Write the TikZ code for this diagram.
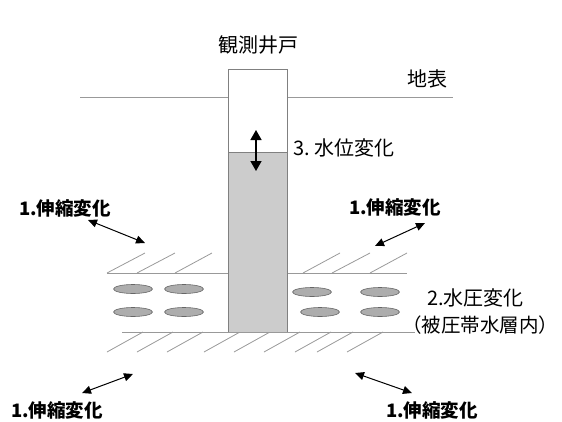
\documentclass[tikz,border=0pt]{standalone}
\usepackage{fontspec}
\usepackage{xcolor}
\usepackage{tikz}
\usetikzlibrary{arrows.meta}

\newfontfamily\jp{Noto Sans CJK JP}
\definecolor{linegray}{gray}{0.6}
\definecolor{wellgray}{gray}{0.8}
\definecolor{graingray}{gray}{0.68}

\begin{document}
\begin{tikzpicture}[x=1pt,y=-1pt,
    label/.style={font=\jp\fontsize{20}{22}\selectfont,inner sep=0pt},
    boldlabel/.style={font=\jp\bfseries\fontsize{18.5}{20}\selectfont,inner sep=0pt},
    strain/.style={{Triangle[length=9pt,width=8pt]}-{Triangle[length=9pt,width=8pt]},line width=1pt},
    hatch/.style={linegray,line width=0.8pt},
    grain/.style={fill=graingray,draw=gray!80!black,line width=0.6pt}]
    \useasboundingbox (0,0) rectangle (562,421);

    % Ground surface
    \draw[linegray,line width=1pt] (80,97) -- (453,97);
    \node[label,anchor=west] (surface) at (407,79) {地表};

    % Confined aquifer boundaries
    \draw[linegray,line width=1pt] (107,273) -- (407,273);
    \draw[linegray,line width=1pt] (122,332) -- (415,332);

    % Hatching above and below the aquifer
    \foreach \x/\dx in {107/38,137/38,175/37,303/37,332/38,370/37}
        \draw[hatch] (\x,273) -- ++(\dx,-20);
    \foreach \x in {107,137,167,204,234,264,295,317,347}
        \draw[hatch] (\x,352) -- ++(36,-20);

    % Grains in the aquifer
    \foreach \x/\y in {133/289,184/289,133/312,184/312,312/292,380/292,320/312,380/312}
        \draw[grain] (\x,\y) ellipse (19.5 and 4.5);

    % Observation well
    \fill[white] (228,69) rectangle (287,152);
    \fill[wellgray] (228,152) rectangle (287,332);
    \draw[gray,line width=0.8pt] (228,332) -- (228,69) -- (287,69) -- (287,332);
    \draw[gray,line width=0.8pt] (228,152) -- (287,152);
    \node[label] (well) at (258,45) {観測井戸};

    % Water level change
    \coordinate (levelTop) at (256,130);
    \coordinate (levelBot) at (256,171);
    \draw[{Triangle[length=10pt,width=11pt]}-{Triangle[length=10pt,width=11pt]},line width=1.4pt] (levelTop) -- (levelBot);
    \node[label,anchor=west] (level) at (293,148) {3.\ 水位変化};

    % Pressure change
    \node[label,anchor=west] (press) at (427,298) {2.水圧変化};
    \node[label,anchor=west,font=\jp\fontsize{19.5}{21}\selectfont] (aquifer) at (402,325) {（被圧帯水層内）};

    % Deformation of the layers
    \node[boldlabel] (defUL) at (65,208) {1.伸縮変化};
    \node[boldlabel] (defUR) at (395,207) {1.伸縮変化};
    \node[boldlabel] (defLL) at (57,410) {1.伸縮変化};
    \node[boldlabel] (defLR) at (432,410) {1.伸縮変化};
    \coordinate (ulA) at (88,220);  \coordinate (ulB) at (145,243);
    \coordinate (urA) at (375,246); \coordinate (urB) at (425,223);
    \coordinate (llA) at (82,393);  \coordinate (llB) at (133,374);
    \coordinate (lrA) at (355,373); \coordinate (lrB) at (412,393);
    \draw[strain] (ulA) -- (ulB);
    \draw[strain] (urA) -- (urB);
    \draw[strain] (llA) -- (llB);
    \draw[strain] (lrA) -- (lrB);
\end{tikzpicture}
\end{document}
